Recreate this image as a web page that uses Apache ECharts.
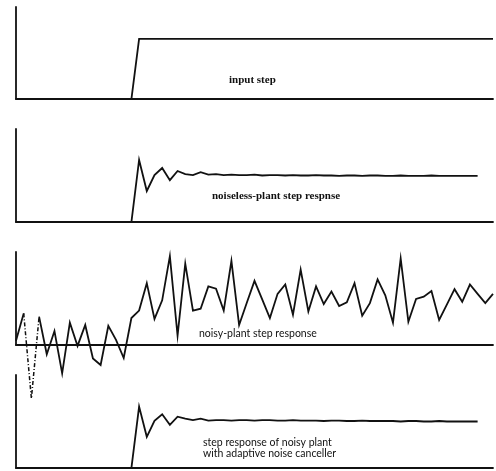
<!DOCTYPE html>
<html>
<head>
<meta charset="utf-8">
<script src="https://cdn.jsdelivr.net/npm/echarts@6/dist/echarts.min.js"></script>
<style>
  html, body { margin: 0; padding: 0; background: #fff; }
  #chart { width: 496px; height: 471px; }
</style>
</head>
<body>
<div id="chart"></div>
<script>
// sample index (time steps)
const sampleCount = 63;

// panel 1: input step
const inputStep = [
  0,0,0,0,0,0,0,0,0,0,0,0,0,0,0,0,
  1,1,1,1,1,1,1,1,1,1,1,1,1,1,1,1,1,1,1,1,1,1,1,1,1,1,1,1,1,1,1,1,1,1,1,1,1,1,1,1,1,1,1,1,1,1,1
];

// panel 2: noiseless-plant step response
const noiselessResponse = [
  0,0,0,0,0,0,0,0,0,0,0,0,0,0,0,0,
  1.32,0.66,1.0,1.15,0.89,1.085,1.02,1.0,1.06,1.01,1.02,1.0,1.01,1.0,1.0,1.01,
  0.99,1.0,1.0,0.99,1.0,0.99,0.99,1.0,0.99,0.99,0.98,0.99,0.99,0.98,0.99,0.99,
  0.98,0.98,0.99,0.98,0.98,0.98,0.99,0.98,0.98,0.98,0.98,0.98,0.98
];

// panel 3: noisy-plant step response
const noisyResponse = [
  0.09,0.68,-1.15,0.61,-0.20,0.30,-0.61,0.48,-0.02,0.43,-0.29,-0.43,0.41,0.11,-0.28,0.58,
  0.74,1.33,0.56,0.96,1.91,0.20,1.75,0.74,0.78,1.26,1.21,0.74,1.81,0.43,0.91,1.38,
  0.98,0.58,1.10,1.30,0.65,1.62,0.72,1.26,0.88,1.15,0.84,0.92,1.33,0.63,0.90,1.41,
  1.07,0.48,1.86,0.50,0.99,1.04,1.16,0.54,0.87,1.20,0.93,1.30,1.10,0.90,1.10
];
// samples joined by the dash-dot stroke in the scan
const dashedSamples = [1, 2, 3];

// panel 4: step response of noisy plant with adaptive noise canceller
const cancelledResponse = [
  0,0,0,0,0,0,0,0,0,0,0,0,0,0,0,0,
  1.28,0.65,0.985,1.12,0.9,1.07,1.03,1.0,1.03,0.99,1.0,1.0,0.99,1.0,1.0,0.99,
  1.0,1.0,0.99,0.99,1.0,0.99,0.99,0.99,0.98,0.99,0.99,0.98,0.98,0.99,0.98,0.98,
  0.98,0.98,0.97,0.98,0.98,0.97,0.97,0.98,0.97,0.97,0.97,0.97,0.97
];

// panel labels
const labels = {
  input: 'input step',
  noiseless: 'noiseless-plant step respnse',
  noisy: 'noisy-plant step response',
  cancelled1: 'step response of noisy plant',
  cancelled2: 'with adaptive noise canceller'
};

const ink = '#111111';
const toPairs = arr => arr.map((v, i) => [i, v]);

const panels = [
  { top: 7,   height: 92, max: 1.53 },
  { top: 129, height: 93, max: 1.98 },
  { top: 252, height: 93, max: 2.0 },
  { top: 375, height: 93, max: 1.94 }
];

const grids = panels.map(p => ({ left: 16, right: 3, top: p.top, height: p.height }));
const xAxes = panels.map((p, k) => ({
  type: 'value', gridIndex: k, min: 0, max: sampleCount - 1,
  axisLine: { show: true, onZero: false, lineStyle: { color: ink, width: 1.8 } },
  axisTick: { show: false }, axisLabel: { show: false }, splitLine: { show: false }
}));
const yAxes = panels.map((p, k) => ({
  type: 'value', gridIndex: k, min: 0, max: p.max,
  axisLine: { show: true, lineStyle: { color: ink, width: 1.8 } },
  axisTick: { show: false }, axisLabel: { show: false }, splitLine: { show: false }
}));

const lineSeries = (data, k, extra) => Object.assign({
  type: 'line', xAxisIndex: k, yAxisIndex: k, data: data,
  showSymbol: false, symbol: 'none', clip: false, animation: false,
  connectNulls: false,
  lineStyle: { color: ink, width: 1.8, join: 'miter' }
}, extra || {});

const noisySolid = noisyResponse.map((v, i) =>
  (dashedSamples.indexOf(i) > 0 && dashedSamples.indexOf(i) < dashedSamples.length - 1) ? [i, null] : [i, v]);
const noisyDashed = noisyResponse.map((v, i) =>
  dashedSamples.indexOf(i) >= 0 ? [i, v] : [i, null]);

const label = (x, y, text, size, weight, family) => ({
  type: 'text', left: x, top: y,
  style: { text: text, fill: ink, font: (weight || 'normal') + ' ' + size + 'px ' + family, textVerticalAlign: 'top' }
});

const chart = echarts.init(document.getElementById('chart'), null, { renderer: 'canvas' });
chart.setOption({
  backgroundColor: '#ffffff',
  animation: false,
  grid: grids,
  xAxis: xAxes,
  yAxis: yAxes,
  series: [
    lineSeries(toPairs(inputStep), 0),
    lineSeries(toPairs(noiselessResponse), 1),
    lineSeries(noisySolid, 2),
    lineSeries(noisyDashed, 2, { lineStyle: { color: ink, width: 1.5, type: [4, 2, 1, 2] } }),
    lineSeries(toPairs(cancelledResponse), 3)
  ],
  graphic: [
    label(229, 75, labels.input, 11, 'bold', '"Liberation Serif"'),
    label(212, 191, labels.noiseless, 11, 'bold', '"Liberation Serif"'),
    label(199, 328, labels.noisy, 10.5, 'normal', 'Lato'),
    label(203, 437, labels.cancelled1, 10.5, 'normal', 'Lato'),
    label(203, 448, labels.cancelled2, 10.5, 'normal', 'Lato')
  ]
});
</script>
</body>
</html>
